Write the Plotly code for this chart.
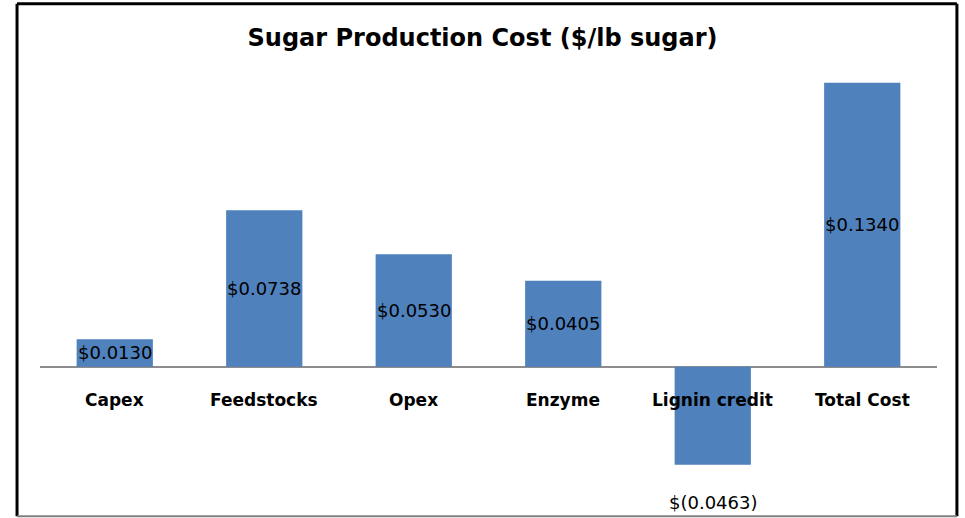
import plotly.graph_objects as go

# Cost components of sugar production, $/lb sugar
categories = ["Capex", "Feedstocks", "Opex", "Enzyme", "Lignin credit", "Total Cost"]
costs = [0.0130, 0.0738, 0.0530, 0.0405, -0.0463, 0.1340]
labels = ["$0.0130", "$0.0738", "$0.0530", "$0.0405", "$(0.0463)", "$0.1340"]

BAR_BLUE = "#4F81BD"

fig = go.Figure(
    go.Bar(
        x=categories,
        y=costs,
        marker=dict(color=BAR_BLUE, line=dict(width=0)),
        hoverinfo="skip",
    )
)

annotations = []
# value labels: centred on the bar, below it for the negative credit
for cat, val, lab in zip(categories, costs, labels):
    if val >= 0:
        annotations.append(dict(x=cat, y=val / 2, xref="x", yref="y", text=lab,
                                showarrow=False, yanchor="middle",
                                font=dict(family="DejaVu Sans", size=18, color="#000000")))
    else:
        annotations.append(dict(x=cat, y=val, xref="x", yref="y", text=lab,
                                showarrow=False, yanchor="middle", yshift=-38,
                                font=dict(family="DejaVu Sans", size=18, color="#000000")))
# category names sit just under the zero line
for cat in categories:
    annotations.append(dict(x=cat, y=0, xref="x", yref="y", text="<b>" + cat + "</b>",
                            showarrow=False, yanchor="middle", yshift=-33,
                            font=dict(family="DejaVu Sans", size=17, color="#000000")))

# chart frame
frame = [
    dict(type="line", xref="paper", yref="paper", x0=-0.0256, x1=-0.0256, y0=-0.012, y1=1.150,
         line=dict(color="#000000", width=3)),
    dict(type="line", xref="paper", yref="paper", x0=-0.0256, x1=1.0222, y0=1.150, y1=1.150,
         line=dict(color="#000000", width=3)),
    dict(type="line", xref="paper", yref="paper", x0=1.0222, x1=1.0222, y0=-0.012, y1=1.150,
         line=dict(color="#000000", width=3)),
    dict(type="line", xref="paper", yref="paper", x0=-0.0256, x1=1.0222, y0=-0.012, y1=-0.012,
         line=dict(color="#808080", width=2)),
]

fig.update_layout(
    width=965,
    height=518,
    margin=dict(l=40, r=28, t=70, b=7),
    paper_bgcolor="#FFFFFF",
    plot_bgcolor="#FFFFFF",
    showlegend=False,
    bargap=0.49,
    title=dict(text="<b>Sugar Production Cost ($/lb sugar)</b>", x=0.5, xanchor="center",
               y=0.927, yanchor="middle",
               font=dict(family="DejaVu Sans", size=24, color="#000000")),
    xaxis=dict(showticklabels=False, showgrid=False, showline=False, zeroline=False, ticks=""),
    yaxis=dict(range=[-0.0681, 0.14], showticklabels=False, showgrid=False, showline=False,
               zeroline=True, zerolinecolor="#8C8C8C", zerolinewidth=1.5, ticks=""),
    annotations=annotations,
    shapes=frame,
)

fig.write_html("out.html")
